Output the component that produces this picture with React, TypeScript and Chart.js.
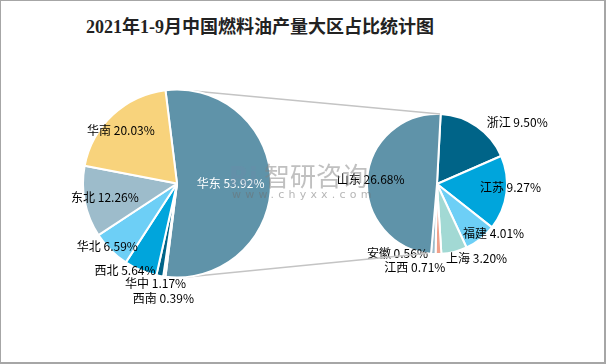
import React, { useEffect, useRef } from "react";
import { Chart, registerables } from "chart.js";

Chart.register(...registerables);

const titleText = "2021年1-9月中国燃料油产量大区占比统计图";

const regionLabels = ["华东", "西南", "华中", "西北", "华北", "东北", "华南"];
const regionValues = [53.92, 0.39, 1.17, 5.64, 6.59, 12.26, 20.03];
const regionColors = ["#5f93a9", "#a2d9d4", "#006488", "#00a5dc", "#6dcff6", "#9dbccb", "#f8d37c"];

const provinceLabels = ["浙江", "江苏", "福建", "上海", "江西", "安徽", "山东"];
const provinceValues = [9.5, 9.27, 4.01, 3.2, 0.71, 0.56, 26.68];
const provinceColors = ["#006488", "#00a5dc", "#6dcff6", "#a2d9d4", "#f0a08a", "#9dbccb", "#5f93a9"];

// label placement: radial factor and angular tweak (degrees)
const regionLabelPos = [
  [0.57, 0], [1.23, -1], [1.09, 1.5], [1.08, 8], [1.0, 3], [0.78, 0.5], [0.82, -3.6],
];
const provinceLabelPos = [
  [1.44, 18], [1.05, -5], [1.07, -10.8], [1.21, -13.6], [1.24, 16], [1.14, 26.7], [0.95, 0],
];
const regionLabelColors = ["#ffffff", "#000", "#000", "#000", "#000", "#000", "#000"];

const FONT = "12px 'Noto Sans CJK SC', 'Noto Sans', sans-serif";

function labelPlugin(labels: string[], values: number[], pos: number[][], colors: string[] | null) {
  return {
    id: "sliceLabels",
    afterDatasetsDraw(chart: any) {
      const ctx = chart.ctx;
      const meta = chart.getDatasetMeta(0);
      ctx.save();
      ctx.font = FONT;
      ctx.textAlign = "center";
      ctx.textBaseline = "middle";
      meta.data.forEach((el: any, i: number) => {
        const p = el.getProps(["x", "y", "startAngle", "endAngle", "outerRadius"], true);
        const mid = (p.startAngle + p.endAngle) / 2 + (pos[i][1] * Math.PI) / 180;
        const r = p.outerRadius * pos[i][0];
        const x = p.x + Math.cos(mid) * r;
        const y = p.y + Math.sin(mid) * r;
        ctx.fillStyle = colors ? colors[i] : "#000";
        ctx.fillText(`${labels[i]} ${values[i].toFixed(2)}%`, x, y);
      });
      ctx.restore();
    },
  };
}

export default function App() {
  const leftRef = useRef<HTMLCanvasElement | null>(null);
  const rightRef = useRef<HTMLCanvasElement | null>(null);

  useEffect(() => {
    if (!leftRef.current || !rightRef.current) return;

    const rightChart = new Chart(rightRef.current, {
      type: "pie",
      data: {
        labels: provinceLabels,
        datasets: [
          {
            data: provinceValues,
            backgroundColor: provinceColors,
            borderColor: "#ffffff",
            borderWidth: 2,
          },
        ],
      },
      options: {
        responsive: false,
        animation: false,
        rotation: 3,
        radius: 70,
        layout: { padding: { left: 367, right: 99, top: 114, bottom: 110 } },
        plugins: { legend: { display: false }, tooltip: { enabled: false }, title: { display: false } },
      },
      plugins: [labelPlugin(provinceLabels, provinceValues, provinceLabelPos, null)],
    } as any);

    const connector = {
      id: "connector",
      beforeDatasetsDraw(chart: any) {
        const lm = chart.getDatasetMeta(0).data[0];
        const rm = rightChart.getDatasetMeta(0).data[0] as any;
        if (!lm || !rm) return;
        const L = lm.getProps(["x", "y", "outerRadius"], true);
        const R = rm.getProps(["x", "y", "outerRadius"], true);
        const pt = (c: any, degFromTop: number) => {
          const a = ((degFromTop - 90) * Math.PI) / 180;
          return [c.x + Math.cos(a) * c.outerRadius, c.y + Math.sin(a) * c.outerRadius];
        };
        const ctx = chart.ctx;
        ctx.save();
        ctx.strokeStyle = "#c4c4c4";
        ctx.lineWidth = 1.5;
        const a1 = pt(L, 10), b1 = pt(R, 2.5);
        const a2 = pt(L, 174), b2 = pt(R, 188);
        ctx.beginPath();
        ctx.moveTo(a1[0], a1[1]);
        ctx.lineTo(b1[0], b1[1]);
        ctx.moveTo(a2[0], a2[1]);
        ctx.lineTo(b2[0], b2[1]);
        ctx.stroke();
        ctx.restore();
      },
    };

    const leftChart = new Chart(leftRef.current, {
      type: "pie",
      data: {
        labels: regionLabels,
        datasets: [
          {
            data: regionValues,
            backgroundColor: regionColors,
            borderColor: "#ffffff",
            borderWidth: 2,
          },
        ],
      },
      options: {
        responsive: false,
        animation: false,
        rotation: -7.06,
        radius: 94,
        layout: { padding: { left: 83, right: 335, top: 89, bottom: 86 } },
        plugins: { legend: { display: false }, tooltip: { enabled: false }, title: { display: false } },
      },
      plugins: [connector, labelPlugin(regionLabels, regionValues, regionLabelPos, regionLabelColors)],
    } as any);

    return () => {
      leftChart.destroy();
      rightChart.destroy();
    };
  }, []);

  const abs: React.CSSProperties = { position: "absolute", left: 0, top: 0 };

  return (
    <div style={{ position: "absolute", left: 0, top: 0, width: 606, height: 364, background: "#fff", overflow: "hidden" }}>
      <div
        style={{
          position: "absolute",
          left: 0,
          top: 13,
          width: 520,
          textAlign: "center",
          fontFamily: "'Liberation Serif', 'Noto Sans CJK SC', serif",
          fontSize: 18,
          fontWeight: "bold",
          color: "#222",
          lineHeight: "28px",
          whiteSpace: "nowrap",
        }}
      >
        {titleText}
      </div>
      <canvas ref={rightRef} width={606} height={364} style={abs} />
      <canvas ref={leftRef} width={606} height={364} style={abs} />
      <div
        style={{
          position: "absolute",
          left: 229,
          top: 159,
          fontFamily: "'Noto Sans CJK SC', sans-serif",
          fontSize: 26,
          color: "rgba(130,130,130,0.5)",
          whiteSpace: "nowrap",
          pointerEvents: "none",
          lineHeight: "32px",
        }}
      >
        <span style={{ fontFamily: "'DejaVu Sans', sans-serif", fontWeight: "bold", color: "rgba(110,140,170,0.35)", marginRight: 6 }}>Ri</span>
        智研咨询
      </div>
      <div
        style={{
          position: "absolute",
          left: 232,
          top: 188,
          fontFamily: "'DejaVu Sans', sans-serif",
          fontSize: 11,
          letterSpacing: 4.2,
          color: "rgba(110,110,110,0.5)",
          whiteSpace: "nowrap",
          pointerEvents: "none",
          lineHeight: "14px",
        }}
      >
        www.chyxx.com
      </div>
      <div
        style={{
          position: "absolute",
          left: 0,
          top: 0,
          width: 606,
          height: 364,
          boxSizing: "border-box",
          borderTop: "1px solid #a6a6a6",
          borderLeft: "1px solid #a6a6a6",
          borderRight: "2px solid #a6a6a6",
          borderBottom: "2px solid #a6a6a6",
          pointerEvents: "none",
        }}
      />
    </div>
  );
}
